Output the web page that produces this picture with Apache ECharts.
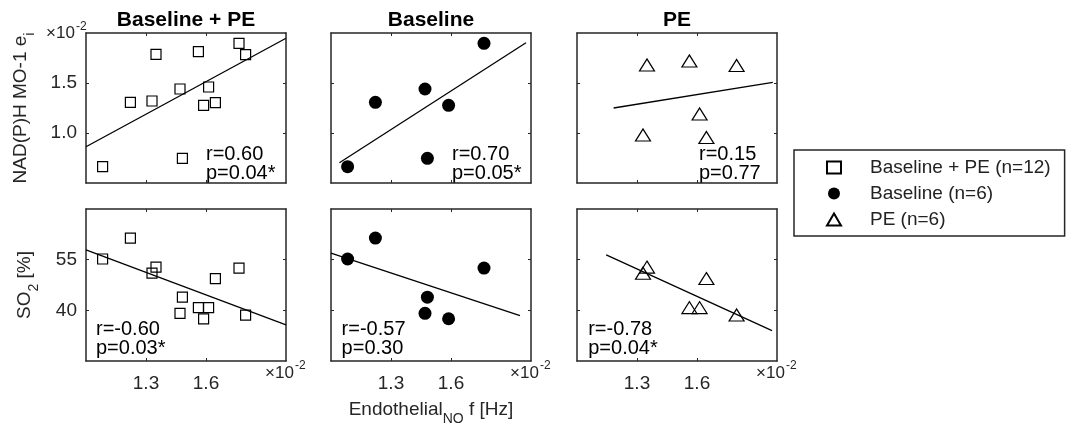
<!DOCTYPE html>
<html>
<head>
<meta charset="utf-8">
<script src="https://cdn.jsdelivr.net/npm/echarts@6/dist/echarts.min.js"></script>
<style>
  html, body { margin: 0; padding: 0; background: #fff; }
  #chart { width: 1072px; height: 427px; }
</style>
</head>
<body>
<div id="chart"></div>
<script>
// frequencies are in units of 1e-2 Hz
const baselineFreq = [1.083, 1.222, 1.470, 1.482, 1.588, 1.765]
const baselineNadh = [0.663, 1.307, 1.440, 0.747, 1.277, 1.897]
const baselineSo2 = [55.2, 61.4, 39.1, 43.9, 37.5, 52.5]

const peFreq = [1.330, 1.350, 1.562, 1.613, 1.647, 1.798]
const peNadh = [1.320, 1.787, 1.813, 1.460, 1.303, 1.783]
const peSo2 = [51.0, 52.8, 40.8, 40.8, 49.4, 38.6]

// regression lines (start / end points)
const fitAllNadhX = [1.0, 2.0], fitAllNadhY = [0.863, 1.947]
const fitBaseNadhX = [1.042, 1.975], fitBaseNadhY = [0.703, 1.903]
const fitPeNadhX = [1.183, 1.979], fitPeNadhY = [1.500, 1.671]
const fitAllSo2X = [1.0, 2.0], fitAllSo2Y = [57.9, 35.7]
const fitBaseSo2X = [1.0, 1.945], fitBaseSo2Y = [56.95, 38.4]
const fitPeSo2X = [1.146, 1.975], fitPeSo2Y = [56.4, 34.0]

const panelTitles = ['Baseline + PE', 'Baseline', 'PE']
const legendNames = ['Baseline + PE (n=12)', 'Baseline (n=6)', 'PE (n=6)']
const statsNadh = ['r=0.60\np=0.04*', 'r=0.70\np=0.05*', 'r=0.15\np=0.77']
const statsSo2 = ['r=-0.60\np=0.03*', 'r=-0.57\np=0.30', 'r=-0.78\np=0.04*']

const freqTicks = [1.3, 1.6]
const nadhTicks = [1.0, 1.5]
const peNadhTicks = [4 / 3, 5 / 3]
const so2Ticks = [40, 55]

const allFreq = baselineFreq.concat(peFreq)
const allNadh = baselineNadh.concat(peNadh)
const allSo2 = baselineSo2.concat(peSo2)

const zip = (xs, ys) => xs.map((x, i) => [x, ys[i]])

const font = 'Liberation Sans'
const axisColor = '#262626'

// layout
const panelLefts = [86, 331, 577]
const rowTops = [33, 209]
const rowHeights = [150, 152]
const panelWidth = 200

const markerStyles = [
  { symbol: 'rect', symbolSize: 10, itemStyle: { color: 'rgba(255,255,255,0)', borderColor: '#000', borderWidth: 1.2, opacity: 1 } },
  { symbol: 'circle', symbolSize: 13, itemStyle: { color: '#000', opacity: 1 } },
  { symbol: 'triangle', symbolSize: [15, 12], itemStyle: { color: 'rgba(255,255,255,0)', borderColor: '#000', borderWidth: 1.2, opacity: 1 } }
]

const panels = [
  { row: 0, col: 0, xs: allFreq, ys: allNadh, fitX: fitAllNadhX, fitY: fitAllNadhY, yMin: 0.5, yMax: 2.0, yTicks: nadhTicks, stats: statsNadh[0] },
  { row: 0, col: 1, xs: baselineFreq, ys: baselineNadh, fitX: fitBaseNadhX, fitY: fitBaseNadhY, yMin: 0.5, yMax: 2.0, yTicks: nadhTicks, stats: statsNadh[1] },
  { row: 0, col: 2, xs: peFreq, ys: peNadh, fitX: fitPeNadhX, fitY: fitPeNadhY, yMin: 1.0, yMax: 2.0, yTicks: peNadhTicks, stats: statsNadh[2] },
  { row: 1, col: 0, xs: allFreq, ys: allSo2, fitX: fitAllSo2X, fitY: fitAllSo2Y, yMin: 25, yMax: 70, yTicks: so2Ticks, stats: statsSo2[0] },
  { row: 1, col: 1, xs: baselineFreq, ys: baselineSo2, fitX: fitBaseSo2X, fitY: fitBaseSo2Y, yMin: 25, yMax: 70, yTicks: so2Ticks, stats: statsSo2[1] },
  { row: 1, col: 2, xs: peFreq, ys: peSo2, fitX: fitPeSo2X, fitY: fitPeSo2Y, yMin: 25, yMax: 70, yTicks: so2Ticks, stats: statsSo2[2] }
]

const grids = []
const xAxes = []
const yAxes = []
const series = []
const graphics = []

const lineStyle = { color: axisColor, width: 1.5 }
const labelStyle = { fontFamily: font, fontSize: 19, color: axisColor }

// axis name with a subscript part
const nameStyle = {
  fontFamily: font, fontSize: 19, color: axisColor,
  rich: {
    m: { fontFamily: font, fontSize: 19, color: axisColor, verticalAlign: 'middle' },
    sub: { fontFamily: font, fontSize: 14, color: axisColor, lineHeight: 32, verticalAlign: 'bottom' }
  }
}

panels.forEach((p, i) => {
  const left = panelLefts[p.col]
  const top = rowTops[p.row]
  const height = rowHeights[p.row]
  grids.push({ left: left, top: top, width: panelWidth, height: height, outerBoundsMode: 'none' })

  // bottom + top x axes (box with ticks on both sides)
  ;['bottom', 'top'].forEach(pos => {
    const showLabel = pos === 'bottom' && p.row === 1
    const ax = {
      type: 'value', gridIndex: i, position: pos, min: 1.0, max: 2.0,
      axisLine: { show: true, onZero: false, lineStyle: lineStyle },
      axisTick: { show: true, inside: true, length: 3, customValues: freqTicks, lineStyle: { color: axisColor, width: 1 } },
      axisLabel: Object.assign({ show: showLabel, customValues: freqTicks, margin: 13, formatter: v => v.toFixed(1) }, labelStyle),
      splitLine: { show: false }
    }
    if (showLabel && p.col === 1) {
      ax.name = '{m|Endothelial}{sub|NO}{m| f [Hz]}'
      ax.nameLocation = 'middle'
      ax.nameGap = 33
      ax.nameTextStyle = nameStyle
    }
    xAxes.push(ax)
  })

  // left + right y axes
  ;['left', 'right'].forEach(pos => {
    const showLabel = pos === 'left' && p.col === 0
    const ax = {
      type: 'value', gridIndex: i, position: pos, min: p.yMin, max: p.yMax,
      axisLine: { show: true, onZero: false, lineStyle: lineStyle },
      axisTick: { show: true, inside: true, length: 3, customValues: p.yTicks, lineStyle: { color: axisColor, width: 1 } },
      axisLabel: Object.assign({
        show: showLabel, customValues: p.yTicks, margin: 9,
        formatter: v => (p.row === 0 ? v.toFixed(1) : String(v))
      }, labelStyle),
      splitLine: { show: false }
    }
    if (showLabel) {
      ax.name = p.row === 0 ? '{m|NAD(P)H MO-1 e}{sub|i}' : '{m|SO}{sub|2}{m| [%]}'
      ax.nameLocation = 'middle'
      ax.nameRotate = 90
      ax.nameGap = p.row === 0 ? 49 : 45
      ax.nameTextStyle = nameStyle
    }
    yAxes.push(ax)
  })

  // regression line
  series.push({
    type: 'line', name: 'fit' + i, xAxisIndex: 2 * i, yAxisIndex: 2 * i,
    data: zip(p.fitX, p.fitY), symbol: 'none', silent: true,
    lineStyle: { color: '#000', width: 1.3 }, z: 1
  })

  // markers
  const m = markerStyles[p.col]
  series.push({
    type: 'scatter', name: legendNames[p.col], xAxisIndex: 2 * i, yAxisIndex: 2 * i,
    data: zip(p.xs, p.ys), symbol: m.symbol, symbolSize: m.symbolSize,
    itemStyle: m.itemStyle, z: 3
  })

  // r / p text
  graphics.push({
    type: 'text', silent: true,
    x: left + (p.row === 0 ? 120 + p.col : 10 + p.col * 0.6),
    y: p.row === 0 ? 144.5 : 320,
    style: {
      text: p.stats, fontFamily: font, fontSize: 20, lineHeight: 19, fill: '#000',
      align: 'left', verticalAlign: 'top'
    }
  })

  // x10^-2 multipliers
  if (p.row === 1) {
    const xr = left + panelWidth - 21
    graphics.push({ type: 'text', silent: true, x: xr, y: 373, style: { text: '×10', fontFamily: font, fontSize: 17, fill: axisColor, align: 'left', verticalAlign: 'middle' } })
    graphics.push({ type: 'text', silent: true, x: xr + 30, y: 366, style: { text: '-2', fontFamily: font, fontSize: 12, fill: axisColor, align: 'left', verticalAlign: 'middle' } })
  }
})

// multiplier on the top-left y axis
graphics.push({ type: 'text', silent: true, x: 46, y: 33, style: { text: '×10', fontFamily: font, fontSize: 17, fill: axisColor, align: 'left', verticalAlign: 'middle' } })
graphics.push({ type: 'text', silent: true, x: 76, y: 27, style: { text: '-2', fontFamily: font, fontSize: 12, fill: axisColor, align: 'left', verticalAlign: 'middle' } })

// panel titles
panelTitles.forEach((t, c) => {
  graphics.push({
    type: 'text', silent: true, x: panelLefts[c] + panelWidth / 2, y: 20,
    style: { text: t, fontFamily: font, fontSize: 21, fontWeight: 'bold', fill: '#000', align: 'center', verticalAlign: 'middle' }
  })
})

const chart = echarts.init(document.getElementById('chart'))
chart.setOption({
  animation: false,
  backgroundColor: '#fff',
  grid: grids,
  xAxis: xAxes,
  yAxis: yAxes,
  series: series,
  graphic: graphics,
  legend: {
    data: legendNames,
    orient: 'vertical',
    left: 794,
    top: 150,
    padding: [8, 14, 7, 32],
    itemWidth: 14,
    itemHeight: 12,
    itemGap: 7,
    borderColor: axisColor,
    borderWidth: 1.5,
    selectedMode: false,
    itemStyle: { opacity: 1 },
    textStyle: { fontFamily: font, fontSize: 19, color: '#222', padding: [0, 0, 0, 24] }
  }
})
</script>
</body>
</html>
